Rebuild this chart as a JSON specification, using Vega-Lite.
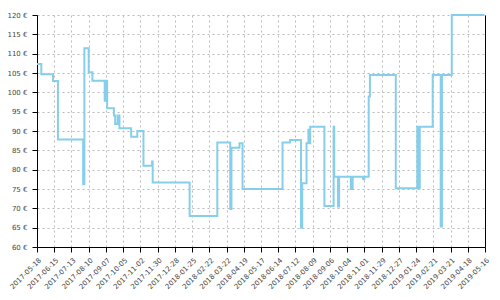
{
  "$schema": "https://vega.github.io/schema/vega-lite/v6.json",
  "width": 448,
  "height": 232,
  "autosize": "none",
  "padding": {"left": 37, "top": 15, "right": 15, "bottom": 53},
  "config": {
    "view": {"stroke": null},
    "axis": {
      "labelFont": "DejaVu Sans",
      "labelFontSize": 7,
      "labelColor": "#444444",
      "domainColor": "#000000",
      "tickColor": "#000000",
      "tickSize": 5,
      "gridColor": "#bbbbbb",
      "gridDash": [2, 3],
      "labelOverlap": false,
      "title": null
    }
  },
  "data": {
    "values": [
      {"date": "2017-05-18", "price": 107.3},
      {"date": "2017-05-25", "price": 104.7},
      {"date": "2017-06-13", "price": 102.9},
      {"date": "2017-06-21", "price": 87.8},
      {"date": "2017-08-01", "price": 76.2},
      {"date": "2017-08-03", "price": 111.4},
      {"date": "2017-08-10", "price": 105.2},
      {"date": "2017-08-16", "price": 103.0},
      {"date": "2017-09-05", "price": 97.8},
      {"date": "2017-09-07", "price": 103.0},
      {"date": "2017-09-09", "price": 95.9},
      {"date": "2017-09-20", "price": 94.0},
      {"date": "2017-09-22", "price": 91.8},
      {"date": "2017-09-26", "price": 94.0},
      {"date": "2017-09-29", "price": 90.7},
      {"date": "2017-10-18", "price": 88.5},
      {"date": "2017-10-28", "price": 90.0},
      {"date": "2017-11-07", "price": 81.0},
      {"date": "2017-11-21", "price": 82.1},
      {"date": "2017-11-22", "price": 76.7},
      {"date": "2018-01-21", "price": 68.0},
      {"date": "2018-03-07", "price": 87.0},
      {"date": "2018-03-28", "price": 69.8},
      {"date": "2018-03-30", "price": 85.7},
      {"date": "2018-04-12", "price": 86.8},
      {"date": "2018-04-17", "price": 75.0},
      {"date": "2018-06-21", "price": 87.0},
      {"date": "2018-07-03", "price": 87.7},
      {"date": "2018-07-21", "price": 65.0},
      {"date": "2018-07-23", "price": 76.5},
      {"date": "2018-07-30", "price": 86.8},
      {"date": "2018-08-02", "price": 90.3},
      {"date": "2018-08-03", "price": 86.8},
      {"date": "2018-08-05", "price": 91.1},
      {"date": "2018-08-28", "price": 70.6},
      {"date": "2018-09-12", "price": 91.1},
      {"date": "2018-09-13", "price": 78.2},
      {"date": "2018-09-19", "price": 70.5},
      {"date": "2018-09-21", "price": 78.2},
      {"date": "2018-10-10", "price": 75.0},
      {"date": "2018-10-13", "price": 78.2},
      {"date": "2018-10-30", "price": 77.5},
      {"date": "2018-11-01", "price": 78.2},
      {"date": "2018-11-08", "price": 98.9},
      {"date": "2018-11-10", "price": 104.5},
      {"date": "2018-12-22", "price": 75.2},
      {"date": "2019-01-26", "price": 91.1},
      {"date": "2019-01-28", "price": 75.2},
      {"date": "2019-01-30", "price": 91.1},
      {"date": "2019-02-20", "price": 104.5},
      {"date": "2019-03-05", "price": 65.3},
      {"date": "2019-03-07", "price": 104.5},
      {"date": "2019-03-23", "price": 120.0},
      {"date": "2019-05-15", "price": 120.0}
    ]
  },
  "resolve": {"axis": {"y": "independent"}},
  "layer": [
    {
      "mark": {"type": "line", "interpolate": "step-after", "color": "#87CEEB", "strokeWidth": 2},
      "encoding": {
        "x": {
          "field": "date",
          "type": "temporal",
          "scale": {
            "type": "utc",
            "domain": [
              {"year": 2017, "month": 5, "date": 18, "utc": true},
              {"year": 2019, "month": 5, "date": 16, "utc": true}
            ]
          },
          "axis": {
            "labelAngle": -45,
            "labelExpr": "utcFormat(datum.value, '%Y-%m-%d')",
            "grid": true,
            "labelOverlap": false,
            "labelPadding": 4,
            "values": [
              {"year": 2017, "month": 5, "date": 18, "utc": true},
              {"year": 2017, "month": 6, "date": 15, "utc": true},
              {"year": 2017, "month": 7, "date": 13, "utc": true},
              {"year": 2017, "month": 8, "date": 10, "utc": true},
              {"year": 2017, "month": 9, "date": 7, "utc": true},
              {"year": 2017, "month": 10, "date": 5, "utc": true},
              {"year": 2017, "month": 11, "date": 2, "utc": true},
              {"year": 2017, "month": 11, "date": 30, "utc": true},
              {"year": 2017, "month": 12, "date": 28, "utc": true},
              {"year": 2018, "month": 1, "date": 25, "utc": true},
              {"year": 2018, "month": 2, "date": 22, "utc": true},
              {"year": 2018, "month": 3, "date": 22, "utc": true},
              {"year": 2018, "month": 4, "date": 19, "utc": true},
              {"year": 2018, "month": 5, "date": 17, "utc": true},
              {"year": 2018, "month": 6, "date": 14, "utc": true},
              {"year": 2018, "month": 7, "date": 12, "utc": true},
              {"year": 2018, "month": 8, "date": 9, "utc": true},
              {"year": 2018, "month": 9, "date": 6, "utc": true},
              {"year": 2018, "month": 10, "date": 4, "utc": true},
              {"year": 2018, "month": 11, "date": 1, "utc": true},
              {"year": 2018, "month": 11, "date": 29, "utc": true},
              {"year": 2018, "month": 12, "date": 27, "utc": true},
              {"year": 2019, "month": 1, "date": 24, "utc": true},
              {"year": 2019, "month": 2, "date": 21, "utc": true},
              {"year": 2019, "month": 3, "date": 21, "utc": true},
              {"year": 2019, "month": 4, "date": 18, "utc": true},
              {"year": 2019, "month": 5, "date": 16, "utc": true}
            ]
          }
        },
        "y": {
          "field": "price",
          "type": "quantitative",
          "scale": {"domain": [60, 120], "nice": false, "zero": false},
          "axis": {
            "values": [60, 65, 70, 75, 80, 85, 90, 95, 100, 105, 110, 115, 120],
            "labelExpr": "datum.value + ' €'",
            "grid": true,
            "labelPadding": 5
          }
        }
      }
    },
    {
      "data": {"values": [{"edge": "right"}]},
      "mark": {"type": "rule", "opacity": 0},
      "encoding": {
        "y": {
          "datum": 60,
          "type": "quantitative",
          "axis": {"orient": "right", "labels": false, "ticks": false, "grid": false, "domain": true}
        }
      }
    }
  ]
}
